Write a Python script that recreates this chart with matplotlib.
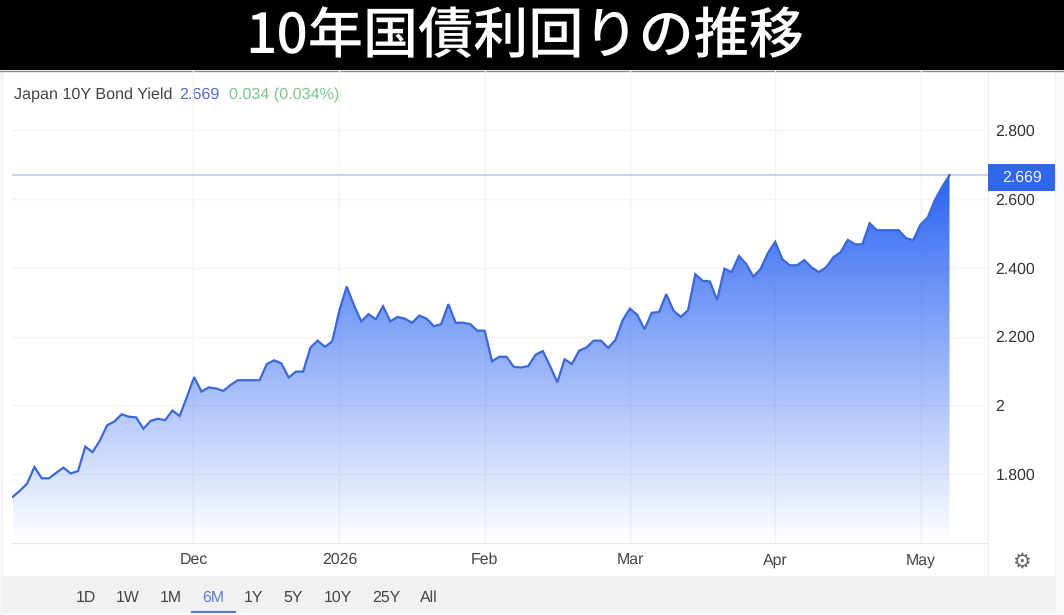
import numpy as np
import matplotlib
matplotlib.use("Agg")
import matplotlib.pyplot as plt
from matplotlib.patches import Rectangle

plt.rcParams['font.family'] = ['Liberation Sans', 'DejaVu Sans']
plt.rcParams['text.hinting'] = 'no_hinting'

title = "10年国債利回りの推移"
series_name = "Japan 10Y Bond Yield"
last_value = "2.669"
change_text = "0.034 (0.034%)"

# yield values, one per trading day
nov_values = [1.734, 1.752, 1.773, 1.821, 1.788, 1.788, 1.804, 1.819, 1.802, 1.809,
              1.880, 1.864, 1.897, 1.942, 1.953, 1.974, 1.967, 1.965, 1.932, 1.955,
              1.961, 1.957, 1.985, 1.969, 2.025]
dec_values = [2.082, 2.040, 2.052, 2.049, 2.042, 2.059, 2.073, 2.073, 2.073, 2.073,
              2.120, 2.131, 2.122, 2.081, 2.098, 2.098, 2.168, 2.188, 2.170, 2.186]
jan_values = [2.277, 2.345, 2.291, 2.244, 2.265, 2.250, 2.288, 2.244, 2.257, 2.252,
              2.240, 2.261, 2.252, 2.230, 2.236, 2.294, 2.240, 2.240, 2.236, 2.217]
feb_values = [2.217, 2.128, 2.141, 2.141, 2.112, 2.110, 2.114, 2.147, 2.158, 2.114,
              2.067, 2.134, 2.120, 2.159, 2.168, 2.188, 2.188, 2.167, 2.190, 2.248]
mar_values = [2.281, 2.263, 2.221, 2.269, 2.271, 2.323, 2.275, 2.257, 2.277, 2.381,
              2.362, 2.360, 2.306, 2.397, 2.387, 2.434, 2.411, 2.374, 2.397, 2.443]
apr_values = [2.475, 2.424, 2.407, 2.407, 2.422, 2.401, 2.387, 2.401, 2.430, 2.445,
              2.481, 2.468, 2.468, 2.529, 2.509, 2.509, 2.509, 2.509, 2.486, 2.480]
may_values = [2.525, 2.546, 2.597, 2.635, 2.669]
values = nov_values + dec_values + jan_values + feb_values + mar_values + apr_values + may_values

y_ticks = [1.8, 2.0, 2.2, 2.4, 2.6, 2.8]
y_labels = ["1.800", "2", "2.200", "2.400", "2.600", "2.800"]
month_ticks = [24.9, 45.0, 65.0, 85.0, 105.0, 125.1]
month_labels = ["Dec", "2026", "Feb", "Mar", "Apr", "May"]
range_buttons = ["1D", "1W", "1M", "6M", "1Y", "5Y", "10Y", "25Y", "All"]
button_centres = [86, 128, 171, 213, 254, 293, 338, 386, 429]

W, H = 1064, 615
fig = plt.figure(figsize=(W / 100, H / 100), dpi=100)

# background layer, in pixels
bg = fig.add_axes([0, 0, 1, 1], zorder=0)
bg.set_xlim(0, W)
bg.set_ylim(H, 0)
bg.axis("off")
bg.add_patch(Rectangle((0, 70), 4, 545, color="#f6f6f6", lw=0))
bg.add_patch(Rectangle((1056, 70), 8, 545, color="#fafafa", lw=0))
bg.add_patch(Rectangle((3, 576), 1053, 37, color="#f1f1f1", lw=0))
bg.plot([988, 988], [71, 576], color="#f0f0f0", lw=1)
bg.plot([1055, 1055], [71, 576], color="#f0f0f0", lw=1)
bg.add_patch(Rectangle((0, 0), W, 70, color="black", lw=0))
bg.plot([0, W], [70.5, 70.5], color="#8a8a8a", lw=1)
bg.text(525, 37, title, color="white", fontsize=39.7, fontweight="medium", ha="center", va="center",
        family=["Noto Sans CJK JP", "DejaVu Sans"])

bg.text(14, 95, series_name, color="#444444", fontsize=11.6, va="center")
bg.text(179, 95, last_value, color="#5470c6", fontsize=11.6, va="center")
bg.text(229, 95, change_text, color="#7cc48a", fontsize=11.6, va="center")

for label, cx in zip(range_buttons, button_centres):
    c = "#5f7fd0" if label == "6M" else "#444444"
    bg.text(cx, 598, label, color=c, fontsize=11.4, ha="center", va="center")
bg.plot([192, 235], [612, 612], color="#5878c8", lw=1.6)
bg.text(1021, 562, "\u2699", color="#666666", fontsize=15, ha="center", va="center", family="DejaVu Sans")

# chart
left, right, top, bottom = 12, 988, 71, 543
ax = fig.add_axes([left / W, 1 - bottom / H, (right - left) / W, (bottom - top) / H], zorder=1)
ax.patch.set_alpha(0)
x = np.arange(len(values))
xlim = (-0.09, 134.3)
ylim = (1.6, 2.9715)

ax.set_yticks(y_ticks)
ax.set_yticklabels(y_labels)
ax.set_xticks(month_ticks)
ax.set_xticklabels(month_labels)
ax.yaxis.tick_right()
ax.tick_params(axis="y", length=0, pad=5.5, labelsize=11.4, labelcolor="#333333")
ax.tick_params(axis="x", length=0, pad=7, labelsize=11.4, labelcolor="#444444")
ax.grid(True, color="#f3f3f3", lw=1)
ax.set_axisbelow(True)
for name, spine in ax.spines.items():
    spine.set_visible(name == "bottom")
    spine.set_color("#e8e8e8")

# gradient under the line
rgba = np.zeros((256, 1, 4))
rgba[..., 0] = 0.17
rgba[..., 1] = 0.39
rgba[..., 2] = 0.95
rgba[..., 3] = np.linspace(1, 0, 256)[:, None]
im = ax.imshow(rgba, extent=[x[0], x[-1], 1.6, max(values)], aspect="auto", origin="upper", zorder=2)
fill = ax.fill_between(x, values, 1.6, color="none", lw=0)
im.set_clip_path(fill.get_paths()[0], transform=ax.transData)
ax.set_xlim(*xlim)
ax.set_ylim(*ylim)

ax.axhline(values[-1], color="#c6cfe6", lw=1.3, zorder=2)
ax.plot(x, values, color="#3b68d8", lw=1.6, zorder=3, solid_joinstyle="miter")

# last value tag goes over the tick labels
fg = fig.add_axes([0, 0, 1, 1], zorder=2)
fg.set_xlim(0, W)
fg.set_ylim(H, 0)
fg.axis("off")
fg.add_patch(Rectangle((988, 164), 67, 27, color="#2f66ea", lw=0))
fg.text(1022, 177.5, last_value, color="#eef3ff", fontsize=11.4, ha="center", va="center")

fig.savefig("out.png", dpi=100)
